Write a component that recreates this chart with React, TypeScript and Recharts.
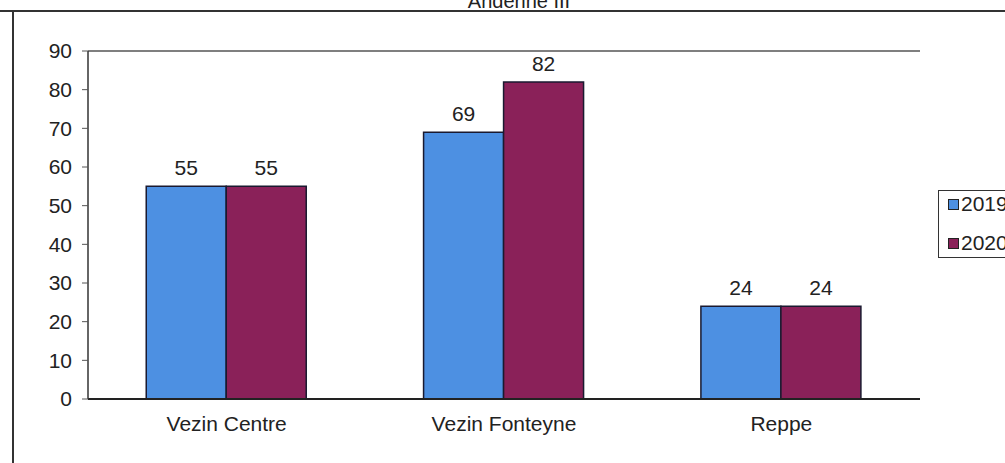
import React from 'react';
import { BarChart, Bar, XAxis, YAxis, ReferenceLine, LabelList } from 'recharts';

const sites = ['Vezin Centre', 'Vezin Fonteyne', 'Reppe'];
const values2019 = [55, 69, 24];
const values2020 = [55, 82, 24];
const yTicks = [0, 10, 20, 30, 40, 50, 60, 70, 80, 90];
const title = 'Andenne III';
const series = [
    { key: 'y2019', name: '2019', color: '#4d90e2' },
    { key: 'y2020', name: '2020', color: '#8a2159' },
];

const data = sites.map((site, i) => ({ site, y2019: values2019[i], y2020: values2020[i], pos: i + 0.5 }));

const font = '"Liberation Sans", Arial, sans-serif';

const LegendBox = () => (
    <div style={{ position: 'absolute', left: 938, top: 190, width: 90, height: 68, boxSizing: 'border-box',
        border: '1.5px solid #333', background: '#fff', padding: '0 0 0 9px', fontFamily: font, fontSize: 21, color: '#222' }}>
        {series.map(s => (
            <div key={s.name} style={{ display: 'flex', alignItems: 'center', height: 26, marginBottom: 13 }}>
                <span style={{ display: 'inline-block', width: 9, height: 9, background: s.color, border: '1.5px solid #222', marginRight: 2 }} />
                {s.name}
            </div>
        ))}
    </div>
);

const App = () => (
    <div style={{ position: 'absolute', left: 0, top: 0, width: 1005, height: 463, background: '#fff', overflow: 'hidden' }}>
        <BarChart width={1005} height={463} data={data} barCategoryGap="21%" barGap={0}
            margin={{ top: 51, right: 85, left: 38, bottom: 34 }}>
            <XAxis xAxisId="grid" type="number" dataKey="pos" domain={[0, 3]} ticks={[0, 1, 2, 3]}
                height={0} axisLine={false} tickLine={{ stroke: '#333' }} tickSize={7} tickFormatter={() => ''} />
            <XAxis dataKey="site" axisLine={{ stroke: '#222', strokeWidth: 2 }} tickLine={false} height={30}
                tick={{ fill: '#222', fontSize: 21, fontFamily: font }} tickMargin={11} />
            <YAxis domain={[0, 90]} ticks={yTicks} width={50} axisLine={{ stroke: '#333', strokeWidth: 1.5 }}
                tickLine={{ stroke: '#555' }} tickSize={6} tickMargin={10}
                tick={{ fill: '#222', fontSize: 21, fontFamily: font }} />
            <YAxis yAxisId="right" orientation="right" domain={[0, 90]} ticks={[]} width={0}
                axisLine={{ stroke: '#444', strokeWidth: 1.5 }} tickLine={false} />
            <ReferenceLine y={90} stroke="#555" strokeWidth={1.5} />
            {series.map(s => (
                <Bar key={s.key} dataKey={s.key} name={s.name} fill={s.color} stroke="#1a1a30" strokeWidth={1.5} isAnimationActive={false}>
                    <LabelList dataKey={s.key} position="top" offset={11} fill="#222" fontSize={21} fontFamily={font} />
                </Bar>
            ))}
        </BarChart>
        <LegendBox />
        <svg width={1005} height={463} style={{ position: 'absolute', left: 0, top: 0, pointerEvents: 'none' }}>
            <line x1={0} y1={11} x2={1005} y2={11} stroke="#333" strokeWidth={2} />
            <line x1={13} y1={11} x2={13} y2={463} stroke="#333" strokeWidth={2} />
            <rect x={445} y={0} width={150} height={10} fill="#fff" />
            <text x={519} y={8} textAnchor="middle" fontSize={20} fontFamily={font} fill="#222">{title}</text>
        </svg>
    </div>
);

export default App;
